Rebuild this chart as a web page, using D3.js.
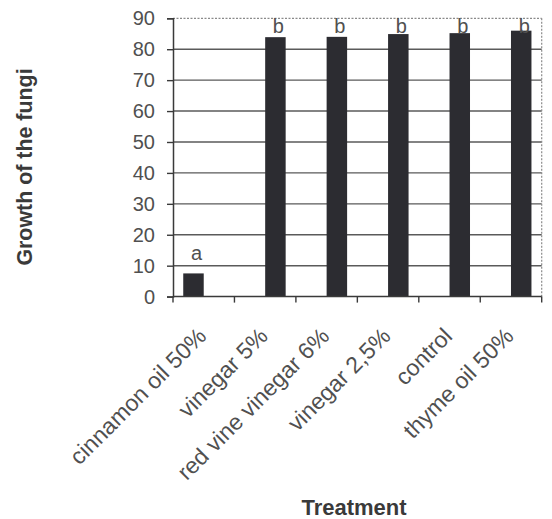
<!DOCTYPE html>
<html><head><meta charset="utf-8">
<script src="https://cdn.jsdelivr.net/npm/d3@7"></script>
<style>
html,body{margin:0;padding:0;background:#fff;}
svg{display:block;font-family:"Liberation Sans",Arial,sans-serif;}
</style></head>
<body>
<svg id="chart" width="552" height="519"></svg>
<script>
const categories = ["cinnamon oil 50%","vinegar 5%","red vine vinegar 6%","vinegar 2,5%","control","thyme oil 50%"];
const values = [7.5, 83.9, 84.0, 84.9, 85.2, 86.0];
const groups = ["a","b","b","b","b","b"];
const groupKeys = ["a","b"];
const yTicks = [0,10,20,30,40,50,60,70,80,90];
const yTitle = "Growth of the fungi";
const xTitle = "Treatment";

const W = 552, H = 519;
const m = {left:173, right:10.3, top:18.3, bottom:222.4};
const svg = d3.select("#chart");
const x0 = d3.scaleBand().domain(categories).range([m.left, W - m.right]).padding(0);
const x1 = d3.scaleBand().domain(groupKeys).range([0, x0.bandwidth()]).paddingInner(0).paddingOuter(0.5);
const y = d3.scaleLinear().domain([0, 90]).range([H - m.bottom, m.top]);

const ink = "#505050";
// gridlines
svg.append("g").selectAll("line").data(yTicks.filter(t => t > 0 && t < 90)).join("line")
  .attr("x1", m.left).attr("x2", W - m.right)
  .attr("y1", d => y(d)).attr("y2", d => y(d))
  .attr("stroke", "#5a5a5a").attr("stroke-width", 1.4);
// top and right border (dotted)
svg.append("line").attr("x1", m.left).attr("x2", W - m.right).attr("y1", y(90)).attr("y2", y(90))
  .attr("stroke", "#8a8a8a").attr("stroke-width", 1.2).attr("stroke-dasharray", "2,1.5");
svg.append("line").attr("x1", W - m.right).attr("x2", W - m.right).attr("y1", y(90)).attr("y2", y(0))
  .attr("stroke", "#8a8a8a").attr("stroke-width", 1.2).attr("stroke-dasharray", "2,1.5");

// bars
const data = categories.map((c, i) => ({c, v: values[i], g: groups[i]}));
svg.append("g").selectAll("rect").data(data).join("rect")
  .attr("x", d => x0(d.c) + x1(d.g))
  .attr("width", x1.bandwidth())
  .attr("y", d => y(d.v))
  .attr("height", d => y(0) - y(d.v))
  .attr("fill", "#2c2c31");

// letters (outside end, clamped inside plot)
svg.append("g").selectAll("text").data(data).join("text")
  .attr("x", d => x0(d.c) + x1(d.g) + x1.bandwidth() / 2 + 3)
  .attr("y", d => Math.max(y(d.v) - 13, y(90) + 15))
  .attr("text-anchor", "middle")
  .attr("font-size", 20).attr("fill", ink)
  .text(d => d.g);

// y axis
const yAxis = d3.axisLeft(y).tickValues(yTicks).tickSize(6).tickPadding(12);
const ga = svg.append("g").attr("transform", `translate(${m.left},0)`).call(yAxis);
ga.select(".domain").attr("stroke", "#3a3a3a").attr("stroke-width", 1.5);
ga.selectAll(".tick line").attr("stroke", "#3a3a3a").attr("stroke-width", 1.4);
ga.selectAll(".tick text").attr("font-size", 20).attr("fill", ink)
  .attr("font-family", "Liberation Sans, Arial, sans-serif");

// x axis baseline + boundary ticks
svg.append("line").attr("x1", m.left).attr("x2", W - m.right).attr("y1", y(0)).attr("y2", y(0))
  .attr("stroke", "#3a3a3a").attr("stroke-width", 1.5);
const bounds = categories.map(c => x0(c)).concat([x0.range()[1]]);
svg.append("g").selectAll("line").data(bounds).join("line")
  .attr("x1", d => d).attr("x2", d => d).attr("y1", y(0)).attr("y2", y(0) + 6)
  .attr("stroke", "#3a3a3a").attr("stroke-width", 1.4);

// category labels rotated
svg.append("g").selectAll("text").data(categories).join("text")
  .attr("transform", c => `translate(${x0(c) + x0.bandwidth() / 2 + 4},${y(0) + 41}) rotate(-45)`)
  .attr("text-anchor", "end")
  .attr("font-size", 23).attr("fill", ink)
  .text(c => c);

// titles
svg.append("text").attr("transform", `translate(32,167) rotate(-90)`)
  .attr("text-anchor", "middle").attr("font-size", 21.4).attr("font-weight", "bold").attr("fill", "#3a3a3a")
  .text(yTitle);
svg.append("text").attr("x", 354).attr("y", 515)
  .attr("text-anchor", "middle").attr("font-size", 22).attr("font-weight", "bold").attr("fill", "#3a3a3a")
  .text(xTitle);
</script>
</body></html>
